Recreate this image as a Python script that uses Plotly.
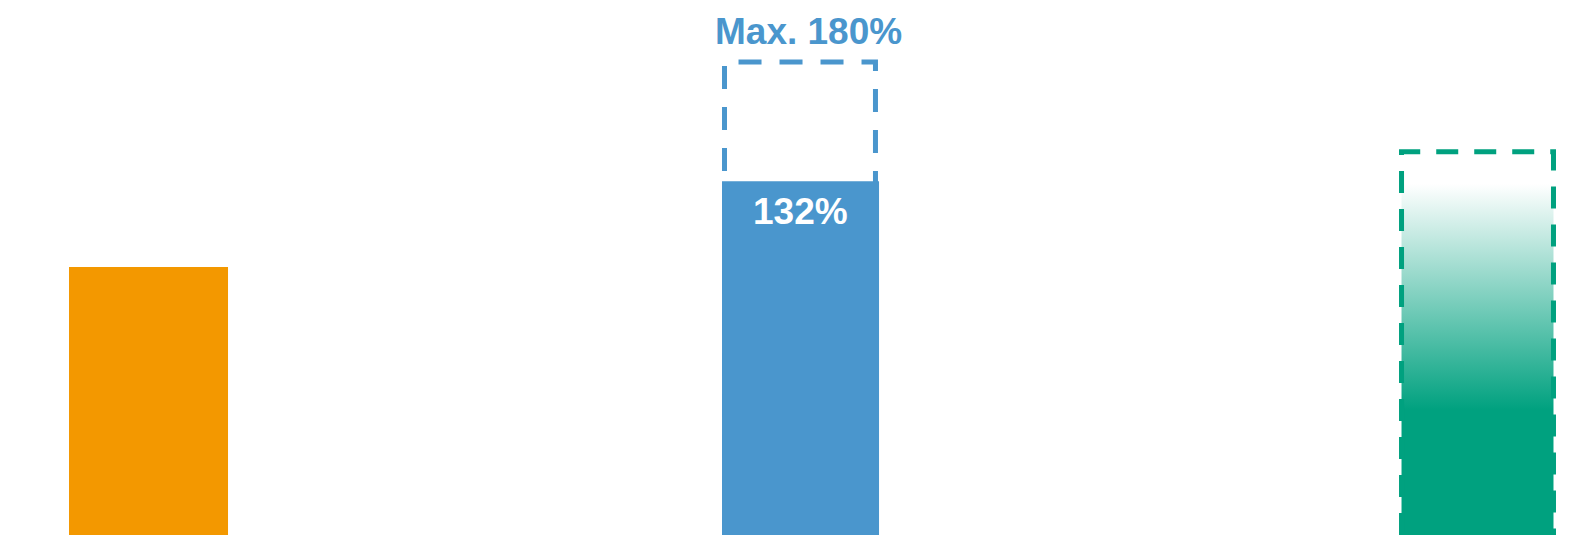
import plotly.graph_objects as go

# ---- data ----
categories = ["A", "B", "C"]
values = [100, 132, 143]          # bar heights in %
blue_max_label = 180              # label on the dashed range box
blue_box_top = 176.5              # drawn top of the dashed range box (estimated)
green_solid_until = 46.6          # green gradient fully solid below this level
green_white_from = 131            # green gradient fully faded above this level

# ---- styles ----
ORANGE = "#F39800"
BLUE = "#4A96CD"
GREEN = "#00A17F"
W, H = 1572, 535
X_RANGE = [-0.2235, 2.1422]
Y_RANGE = [0, 199.6]
bar_widths = [0.2393, 0.2363, 0.2302]
bar_shift = [0.0, -0.0188, 0.0]
FONT = "Liberation Sans, Arial, sans-serif"

xs = list(range(len(categories)))

fig = go.Figure()

# orange and blue solid bars
for i, col in [(0, ORANGE), (1, BLUE)]:
    fig.add_trace(go.Bar(
        x=[xs[i]], y=[values[i]], width=[bar_widths[i]],
        offset=[-bar_widths[i] / 2 + bar_shift[i]],
        marker=dict(color=col, line=dict(width=0)),
        showlegend=False, hoverinfo="skip",
    ))

# blue dashed range box (beneath the bar)
bw = 0.2272
bc = xs[1] + bar_shift[1] - 0.0008
fig.add_shape(type="rect", xref="x", yref="y",
              x0=bc - bw / 2, x1=bc + bw / 2, y0=0, y1=blue_box_top,
              line=dict(color=BLUE, width=5, dash="23px,18px"),
              fillcolor="rgba(0,0,0,0)", layer="below")

# green gradient bar with dashed outline
gw = 0.2287
gx0, gx1 = xs[2] - gw / 2, xs[2] + gw / 2
fig.add_trace(go.Scatter(
    x=[gx0, gx0, gx1, gx1, gx0], y=[0, values[2], values[2], 0, 0],
    mode="lines", fill="toself",
    fillgradient=dict(type="vertical", start=green_solid_until, stop=green_white_from,
                      colorscale=[[0, GREEN], [1, "rgba(255,255,255,1)"]]),
    line=dict(color=GREEN, width=5, dash="22px,16px"),
    showlegend=False, hoverinfo="skip",
))

# labels
fig.add_annotation(x=xs[1] - 0.0068, y=blue_box_top, xref="x", yref="y",
                   text=f"<b>Max. {blue_max_label}%</b>", showarrow=False,
                   yanchor="bottom", yshift=8,
                   font=dict(family=FONT, size=37, color=BLUE))
fig.add_annotation(x=xs[1] - 0.0181, y=values[1], xref="x", yref="y",
                   text=f"<b>{values[1]}%</b>", showarrow=False,
                   yanchor="top", yshift=-8,
                   font=dict(family=FONT, size=37, color="white"))

fig.update_layout(
    width=W, height=H,
    margin=dict(l=0, r=0, t=0, b=0),
    paper_bgcolor="white", plot_bgcolor="white",
    barmode="overlay",
    xaxis=dict(range=X_RANGE, visible=False, fixedrange=True),
    yaxis=dict(range=Y_RANGE, visible=False, fixedrange=True),
)

fig.write_html(
    "out.html",
    config={"displayModeBar": False},
    post_script="document.body.style.margin='0';document.body.style.overflow='hidden';",
)
